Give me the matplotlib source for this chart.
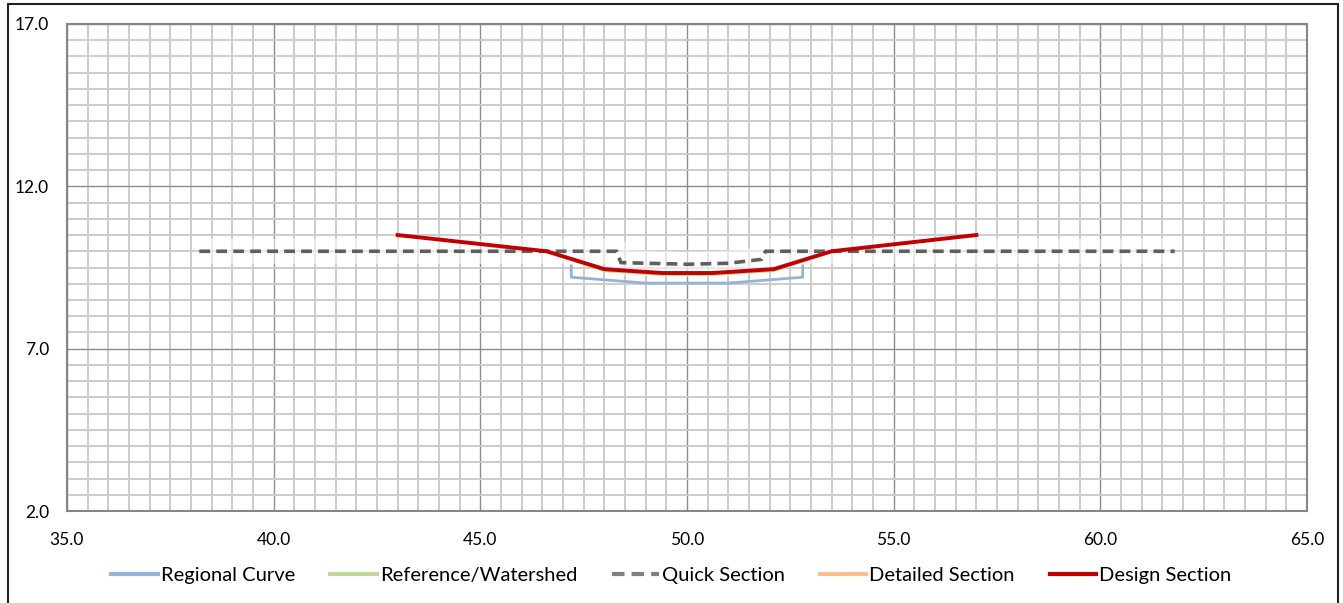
import numpy as np
import matplotlib.pyplot as plt
from matplotlib.patches import Rectangle
from matplotlib.ticker import MultipleLocator

# ---- data (station, elevation) ----
regional_x = [47.2, 47.2, 49.0, 51.0, 52.8, 52.8]
regional_y = [9.55, 9.2, 9.02, 9.02, 9.2, 9.55]

reference_x = [46.6, 48.0, 49.4, 50.6, 52.1, 53.5]
reference_y = [10.0, 9.4, 9.28, 9.28, 9.4, 10.0]

quick_x = [38.2, 48.3, 48.4, 50.0, 51.0, 51.8, 51.9, 61.8]
quick_y = [10.0, 10.0, 9.65, 9.6, 9.63, 9.75, 10.0, 10.0]

detailed_x = []
detailed_y = []

design_x = [43.0, 46.6, 48.0, 49.4, 50.6, 52.1, 53.5, 57.0]
design_y = [10.5, 10.0, 9.45, 9.33, 9.33, 9.45, 10.0, 10.5]

x_ticks = [35, 40, 45, 50, 55, 60, 65]
y_ticks = [2, 7, 12, 17]

plt.rcParams['font.family'] = ['Lato', 'DejaVu Sans']

W, H = 1343, 603
fig = plt.figure(figsize=(W / 100, H / 100), dpi=100)
ax = fig.add_axes([67 / W, 1 - 511 / H, (1307 - 67) / W, (511 - 24) / H])

ax.set_xlim(35, 65)
ax.set_ylim(2, 17)
ax.set_xticks(x_ticks)
ax.set_yticks(y_ticks)
ax.set_xticklabels([f'{v:.1f}' for v in x_ticks], fontsize=12.5)
ax.set_yticklabels([f'{v:.1f}' for v in y_ticks], fontsize=12.5)
ax.xaxis.set_minor_locator(MultipleLocator(0.5))
ax.yaxis.set_minor_locator(MultipleLocator(0.5))
ax.tick_params(which='both', length=0)
ax.tick_params(axis='x', pad=15)
ax.tick_params(axis='y', pad=13)

ax.grid(which='minor', color='#cccccc', linewidth=1.4)
ax.grid(which='major', color='#8c8c8c', linewidth=1.0)
ax.set_axisbelow(True)
for s in ax.spines.values():
    s.set_color('#868686')
    s.set_linewidth(1.5)

# faint glow under the flat sections
ax.plot(quick_x, quick_y, color='white', linewidth=18, alpha=0.55, solid_capstyle='butt', zorder=1.5)

ax.plot(regional_x, regional_y, color='#95b3d7', linewidth=2.0, label='Regional Curve', zorder=2)
ax.plot(reference_x, reference_y, color='#c3d69b', linewidth=2.0, label='Reference/Watershed', zorder=2)
ax.plot(quick_x, quick_y, color='#5f5f5f', linewidth=2.6, dashes=(3.0, 1.7),
        label='Quick Section', zorder=3)
ax.plot(detailed_x, detailed_y, color='#fac090', linewidth=2.6, label='Detailed Section', zorder=3)
ax.plot(design_x, design_y, color='#c00000', linewidth=2.8, label='Design Section', zorder=4)

leg = fig.legend(loc='center', bbox_to_anchor=(0.5, 1 - 575 / H), ncol=5, frameon=False,
                 fontsize=14.5, handlelength=2.3, handletextpad=0.15, columnspacing=1.75)
for line in leg.get_lines():
    line.set_linewidth(3.0)
leg.get_lines()[2].set_color('#808080')

# outer chart border
fig.patches.append(Rectangle((8 / W, -0.01), (1338 - 8) / W, 1 - 4 / H + 0.01,
                             transform=fig.transFigure, fill=False,
                             edgecolor='#222222', linewidth=1.5))

fig.savefig('out.png', dpi=100)
